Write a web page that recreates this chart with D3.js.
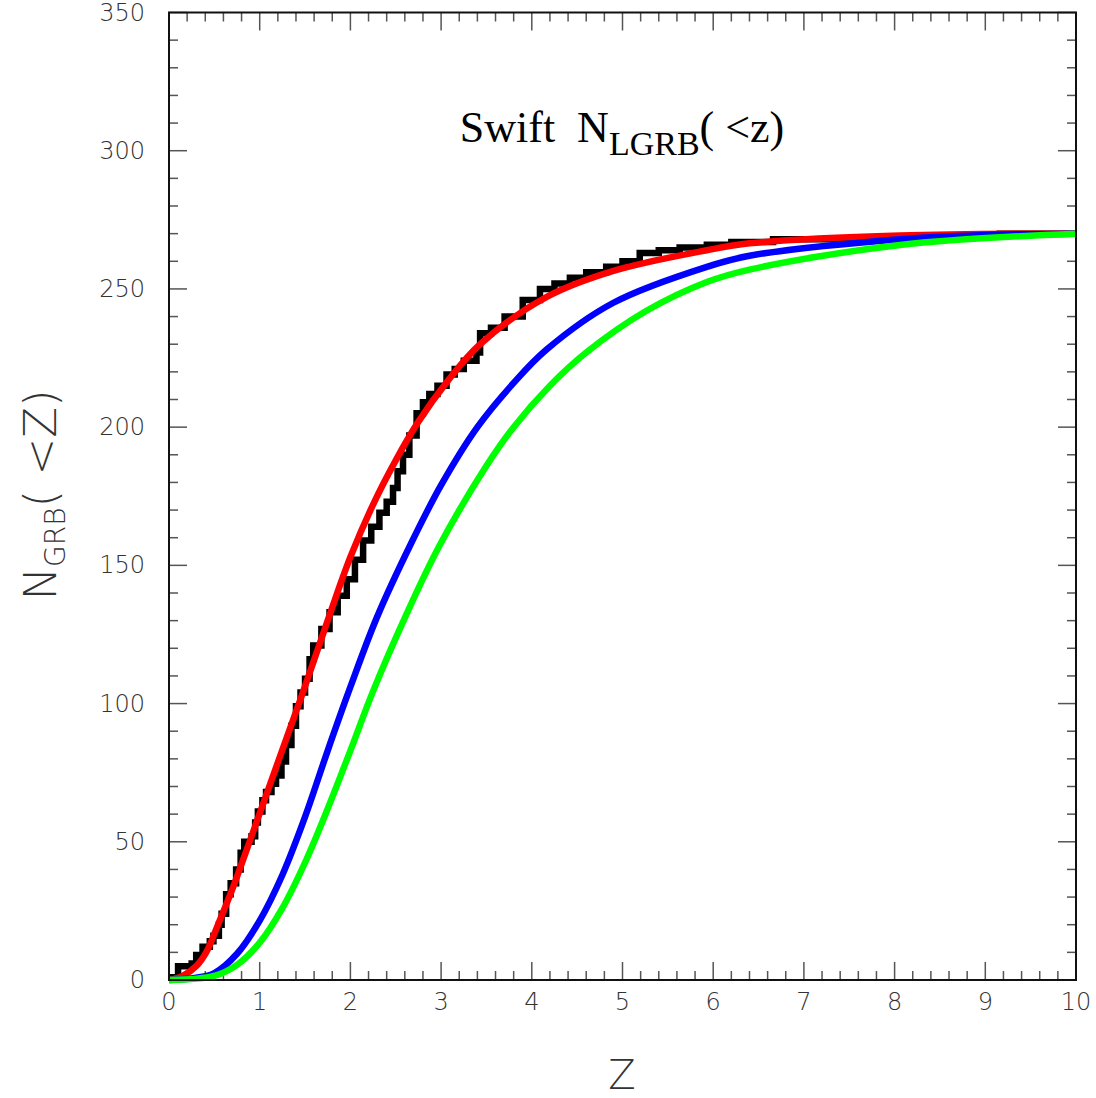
<!DOCTYPE html>
<html>
<head>
<meta charset="utf-8">
<script src="https://cdn.jsdelivr.net/npm/d3@7"></script>
<style>
    body { margin: 0; background: #fff; }
    svg text { font-family: "DejaVu Sans", sans-serif; font-weight: 200; fill: #333; }
</style>
</head>
<body>
<svg id="chart" width="1096" height="1098"></svg>
<script>
// observed cumulative count (step curve)
var dataZ = [0.03, 0.1, 0.25, 0.3, 0.37, 0.45, 0.49, 0.55, 0.58, 0.63, 0.68, 0.74, 0.79, 0.83, 0.91, 0.95, 0.98,
    1.03, 1.07, 1.13, 1.18, 1.24, 1.29, 1.35, 1.40, 1.45, 1.50, 1.55, 1.59, 1.68, 1.77, 1.86, 1.96,
    2.05, 2.14, 2.23, 2.32, 2.40, 2.47, 2.52, 2.58, 2.65, 2.73, 2.80, 2.87, 2.96,
    3.06, 3.15, 3.25, 3.39, 3.43, 3.55, 3.70, 3.90, 4.09, 4.25, 4.42, 4.6, 4.82,
    5.0, 5.19, 5.4, 5.63, 5.93, 6.2, 6.66, 7.2, 8.0, 9.16, 10];
var dataN = [1, 5, 6, 9, 12, 14, 16, 20, 24, 31, 35, 40, 46, 50, 52, 57, 61,
    65, 68, 71, 74, 79, 85, 92, 99, 104, 109, 116, 121, 127, 133, 139, 145,
    152, 159, 164, 169, 173, 178, 184, 190, 197, 205, 209, 212, 215,
    219, 221, 224, 227, 234, 236, 240, 246, 250, 252, 254, 256, 258,
    260, 263, 264, 265, 266, 267, 268, 268, 269, 270, 270];

// model curves
var redZ = [0, 0.15, 0.3, 0.41, 0.54, 0.7, 0.91, 1.165, 1.46, 1.77, 2.0, 2.25, 2.5, 2.75, 3.08, 3.43, 4.16, 4.9, 5.93, 6.4, 8.06, 10];
var redN = [0, 1.5, 5, 10, 20, 33, 52, 75.5, 102.5, 132, 153, 172, 188, 202, 217, 230, 247, 256.5, 264, 266.5, 269.3, 270];

var blueZ = [0, 0.3, 0.5, 0.75, 1.0, 1.25, 1.5, 1.75, 2.0, 2.29, 2.67, 3.0, 3.4, 3.8, 4.16, 4.9, 5.93, 6.4, 8.06, 9, 10];
var blueN = [0, 0.8, 2.5, 9.5, 21.5, 38, 59, 83, 106, 131, 158, 179, 200, 216, 228, 245, 258, 262, 268, 269.5, 270];

var greenZ = [0, 0.5, 0.75, 1.0, 1.25, 1.5, 1.75, 2.0, 2.25, 2.6, 2.98, 3.5, 3.8, 4.2, 4.6, 5.26, 5.93, 6.4, 8.06, 10];
var greenN = [0, 1.5, 5.5, 13.5, 26, 42.5, 62, 83, 104.5, 131, 157, 186, 200, 215, 227, 242, 252.5, 257, 265.9, 270];

var xTicks = [0, 1, 2, 3, 4, 5, 6, 7, 8, 9, 10];
var yTicks = [0, 50, 100, 150, 200, 250, 300, 350];

const margin = {left: 169, right: 20, top: 12.5, bottom: 118};
const width = 1096, height = 1098;

var svg = d3.select("#chart");

var xScale = d3.scaleLinear().domain([0, 10]).range([margin.left, width - margin.right]);
var yScale = d3.scaleLinear().domain([0, 350]).range([height - margin.bottom, margin.top]);

function zip(zs, ns) {
    return zs.map((z, i) => [z, ns[i]]);
}

/**
 * TICKS (inward on all four sides)
 */
var xMinor = d3.range(0, 10.001, 0.2).map(v => +v.toFixed(1));
var yMinor = d3.range(0, 350.001, 10);
var isMajorX = v => Math.abs(v - Math.round(v)) < 1e-6;
var isMajorY = v => v % 50 === 0;
var tickG = svg.append("g").attr("stroke", "#555").attr("stroke-width", 1.5);

xMinor.forEach(v => {
    var len = isMajorX(v) ? 18 : 9;
    tickG.append("line").attr("x1", xScale(v)).attr("x2", xScale(v))
        .attr("y1", yScale(0)).attr("y2", yScale(0) - len);
    tickG.append("line").attr("x1", xScale(v)).attr("x2", xScale(v))
        .attr("y1", yScale(350)).attr("y2", yScale(350) + len);
});
yMinor.forEach(v => {
    var len = isMajorY(v) ? 18 : 9;
    tickG.append("line").attr("y1", yScale(v)).attr("y2", yScale(v))
        .attr("x1", xScale(0)).attr("x2", xScale(0) + len);
    tickG.append("line").attr("y1", yScale(v)).attr("y2", yScale(v))
        .attr("x1", xScale(10)).attr("x2", xScale(10) - len);
});

/**
 * CURVES
 */
var step = d3.line().x(d => xScale(d[0])).y(d => yScale(d[1])).curve(d3.curveStepAfter);
var smooth = d3.line().x(d => xScale(d[0])).y(d => yScale(d[1])).curve(d3.curveCatmullRom.alpha(0.5));

svg.append("path")
    .datum([[0.03, 0]].concat(zip(dataZ, dataN)))
    .attr("d", step)
    .attr("fill", "none")
    .attr("stroke", "#000")
    .attr("stroke-width", 6.5);

[[redZ, redN, "#ff0000"], [blueZ, blueN, "#0000ff"], [greenZ, greenN, "#00ff00"]].forEach(s => {
    svg.append("path")
        .datum(zip(s[0], s[1]))
        .attr("d", smooth)
        .attr("fill", "none")
        .attr("stroke", s[2])
        .attr("stroke-width", 6.5);
});

/**
 * FRAME
 */
svg.append("rect")
    .attr("x", xScale(0)).attr("y", yScale(350))
    .attr("width", xScale(10) - xScale(0)).attr("height", yScale(0) - yScale(350))
    .attr("fill", "none").attr("stroke", "#111").attr("stroke-width", 2);

/**
 * TICK LABELS
 */
svg.append("g").selectAll("text").data(xTicks).enter().append("text")
    .attr("x", d => xScale(d)).attr("y", 1010)
    .attr("text-anchor", "middle").attr("font-size", 24)
    .text(d => d);

svg.append("g").selectAll("text").data(yTicks).enter().append("text")
    .attr("x", 145).attr("y", d => yScale(d) + 8)
    .attr("text-anchor", "end").attr("font-size", 24)
    .text(d => d);

/**
 * AXIS TITLES
 */
svg.append("text")
    .attr("x", 622).attr("y", 1089)
    .attr("text-anchor", "middle").attr("font-size", 40)
    .text("Z");

var yTitle = svg.append("text")
    .attr("transform", "translate(56,495) rotate(-90)")
    .attr("text-anchor", "middle").attr("font-size", 45);
yTitle.append("tspan").text("N");
yTitle.append("tspan").attr("font-size", 28).attr("dy", 9).text("GRB");
yTitle.append("tspan").attr("dy", -9).text("( <Z)");

var title = svg.append("text")
    .attr("x", 622).attr("y", 142)
    .attr("text-anchor", "middle")
    .style("font-family", "'Liberation Serif', 'Times New Roman', serif")
    .style("font-weight", "normal")
    .style("fill", "#000")
    .attr("font-size", 44);
title.append("tspan").text("Swift\u00a0\u00a0N");
title.append("tspan").attr("font-size", 34).attr("dy", 13).text("LGRB");
title.append("tspan").attr("dy", -13).text("( <z)");
</script>
</body>
</html>
